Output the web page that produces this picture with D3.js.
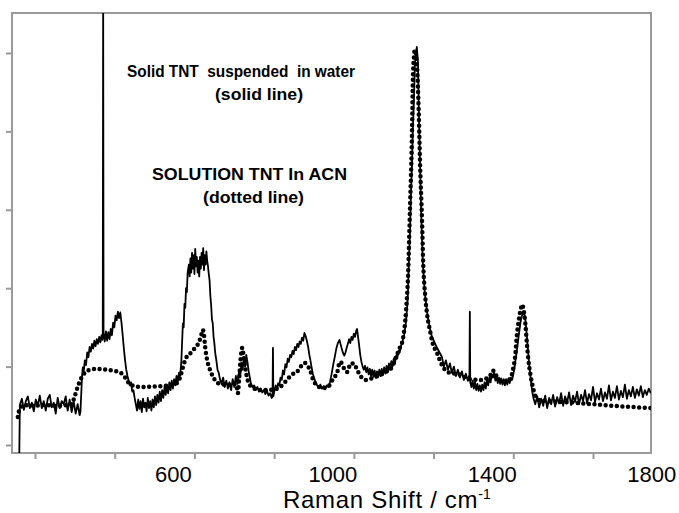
<!DOCTYPE html>
<html><head><meta charset="utf-8">
<script src="https://cdn.jsdelivr.net/npm/d3@7"></script>
<style>
html,body{margin:0;padding:0;background:#fff;}
svg{display:block;font-family:"Liberation Sans",Arial,Helvetica,sans-serif;}
</style></head><body>
<svg id="chart" width="679" height="513"></svg>
<script>
// ---- data ----
const xTicks = [200, 400, 600, 800, 1000, 1200, 1400, 1600];
const xTickLabels = [600, 1000, 1400, 1800];
const yTicks = [0, 1000, 2000, 3000, 4000, 5000];
const xDomain = [142.3, 1745.5];
const yDomain = [-102, 5510];

// Solid TNT suspended in water (solid line): [Raman shift, intensity]
const solidTNT = [
[160,-400],[162,510],[167,590],[172,450],[177,560],[182,620],[187,470],[192,540],[197,430],[202,580],[207,500],
[212,630],[217,470],[222,560],[227,440],[232,590],[237,640],[242,480],[247,540],[252,400],[257,600],[262,470],
[267,560],[272,520],[277,620],[282,440],[287,580],[292,420],[297,560],[302,400],[307,520],[312,380],[314,420],
[318,880],[320,990],[322,920],[325,1080],[328,1020],[331,1180],[334,1120],[337,1250],[340,1190],[343,1290],
[346,1230],[349,1330],[352,1260],[355,1350],[358,1290],[361,1380],[364,1310],[367,1400],[369,1340],[370,1400],
[371,5800],[372,1420],[375,1320],[378,1450],[381,1330],[384,1440],[387,1350],[390,1480],[393,1400],[396,1560],
[399,1500],[402,1650],[405,1590],[408,1700],[411,1620],[414,1690],[417,1560],[420,1400],[423,1230],[426,1080],
[429,960],[432,880],[435,820],[438,760],[441,800],[444,680],[447,700],[450,600],
[453,520],[456,440],[459,580],[462,460],[465,560],[468,420],[471,590],[474,480],[477,540],[480,430],[483,600],
[486,470],[489,560],[492,440],[495,580],[498,480],[501,620],[504,510],[507,640],[510,540],[513,680],[516,560],
[519,700],[522,600],[525,740],[528,640],[531,770],[534,660],[537,800],[540,700],[543,820],[546,720],[549,840],
[552,760],[555,880],[558,800],[561,920],[564,880],[567,1050],
[569,1300],[571,1550],[573,1500],[575,1800],[577,1750],[579,2000],[581,1950],[583,2200],[586,2300],[588,2150],
[590,2380],[592,2200],[594,2450],[596,2250],[598,2420],[600,2180],[602,2500],[604,2280],[606,2400],[608,2200],
[610,2350],[612,2150],[614,2400],[616,2250],[618,2450],[620,2300],[622,2510],[624,2230],[626,2420],[628,2300],
[630,2470],[632,2350],[634,2280],[636,2180],[638,2100],[640,1900],[642,1780],[644,1600],[646,1550],[648,1380],
[650,1300],[652,1180],[655,1080],[658,960],[661,920],[664,840],[668,780],[672,860],[676,740],[680,820],[684,720],
[688,800],[692,700],[696,840],[700,740],[704,880],[708,780],[712,950],[715,880],[718,1050],[721,960],[724,1120],
[727,1000],[730,1150],[733,1060],[736,940],[739,860],[742,780],[746,740],
[750,760],[754,700],[758,740],[762,680],[766,720],[770,670],[774,700],[778,650],[782,690],[786,630],[790,660],
[794,600],[796,620],[797,1240],[798,620],[801,700],[804,760],[807,700],[810,790],[813,760],[816,860],[819,830],
[822,950],[825,900],[828,1030],[831,990],[834,1100],[837,1060],[840,1150],[843,1120],[846,1200],[849,1160],
[852,1250],[855,1210],[858,1290],[861,1250],[864,1320],[867,1290],[870,1370],[873,1330],[876,1430],[879,1390],
[882,1330],[885,1260],[888,1160],[891,1080],[894,990],[897,910],[900,860],[904,800],[908,760],[912,730],
[916,770],[920,720],[924,750],[928,710],[932,760],[936,740],[940,800],[944,900],[948,1020],[952,1120],[956,1230],
[960,1300],[964,1340],[967,1280],[970,1220],[973,1170],[976,1140],[979,1180],[982,1240],[985,1290],[988,1350],
[991,1300],[994,1380],[997,1340],[1000,1420],[1003,1380],[1006,1460],[1008,1480],[1010,1400],[1013,1280],
[1016,1150],[1019,1060],[1022,1000],[1025,960],[1028,1010],[1031,930],[1034,990],[1037,900],[1040,970],
[1043,880],[1046,960],[1049,870],[1052,950],[1055,860],[1058,940],[1061,870],[1064,960],[1067,880],[1070,970],
[1073,890],[1076,990],[1079,910],[1082,1010],[1085,930],[1088,1040],[1091,960],[1094,1070],[1097,1000],
[1100,1100],[1103,1040],[1106,1140],[1109,1110],[1112,1200],[1115,1180],[1118,1260],[1121,1300],[1124,1360],
[1126,1403],[1131,1569],[1135,1849],[1138,2321],[1141,2742],[1143,3163],[1146,3597],[1148,4018],[1151,4439],
[1153,4847],[1156,5013],[1158,5076],[1161,4872],[1163,4273],[1166,3597],[1169,2934],[1173,2321],[1178,1939],
[1184,1684],[1190,1505],[1196,1378],[1209,1237],[1221,1122],
[1226,1000],[1231,1080],[1236,960],[1241,1040],[1246,920],[1251,1000],[1256,880],[1261,960],[1266,860],
[1271,940],[1276,830],[1281,910],[1286,820],[1289,880],[1290,860],[1291,1700],[1292,800],[1295,740],[1298,820],
[1301,720],[1304,800],[1307,700],[1310,780],[1313,690],[1316,760],[1319,680],[1322,770],[1325,700],[1328,800],
[1331,720],[1334,830],[1337,760],[1340,860],[1343,800],[1346,900],[1349,860],[1352,920],[1355,820],[1358,880],
[1361,790],[1364,860],[1367,780],[1370,850],[1373,770],[1376,840],[1379,760],[1382,840],[1385,770],[1388,850],
[1391,790],[1394,860],[1397,830],[1400,900],[1403,980],[1406,1100],[1409,1200],[1412,1330],[1415,1450],
[1418,1560],[1421,1640],[1424,1670],[1427,1690],[1430,1620],[1433,1450],[1436,1270],[1439,1080],[1442,920],
[1445,780],[1448,670],[1451,590],[1455,520],
[1460,620],[1465,480],[1470,590],[1475,500],[1480,630],[1485,470],[1490,600],[1495,520],[1500,640],[1505,490],
[1510,610],[1515,530],[1520,660],[1525,500],[1530,620],[1535,540],[1540,670],[1545,510],[1550,630],[1555,550],
[1560,680],[1565,520],[1570,640],[1575,560],[1580,700],[1585,530],[1590,650],[1595,570],[1600,740],[1605,550],
[1610,660],[1615,580],[1620,720],[1625,560],[1630,670],[1635,590],[1640,760],[1645,570],[1650,680],[1655,600],
[1660,750],[1665,580],[1670,690],[1675,610],[1680,770],[1685,590],[1690,700],[1695,620],[1700,740],[1705,600],
[1710,710],[1715,630],[1720,750],[1725,610],[1730,700],[1735,640],[1740,720],[1745,660]
];

// Solution TNT in ACN (dotted line): [Raman shift, intensity]
const solutionTNT = [
[157,357],[162,470],[170,500],[185,510],[200,500],[220,510],[240,505],[260,500],[280,510],[292,520],[297,580],
[302,660],[307,740],[312,810],[318,870],[325,920],[335,955],[350,970],[370,965],[390,955],[405,940],[415,920],
[425,870],[432,810],[440,770],[455,745],[475,740],[500,745],[520,750],[540,765],[556,790],[564,860],[571,990],
[578,1100],[585,1150],[592,1180],[600,1230],[607,1270],[612,1320],[617,1400],[621,1470],[624,1400],[627,1250],
[632,1080],[637,990],[642,920],[648,860],[655,800],[665,780],[680,770],[695,765],[703,780],[707,720],[709,660],
[712,830],[715,1050],[718,1200],[720,1240],[723,1150],[727,1000],[731,880],[736,790],[742,750],[750,720],
[765,700],[780,700],[800,710],[815,740],[832,829],[845,900],[857,930],[866,995],[877,1046],[882,1020],[890,957],
[898,829],[908,760],[920,730],[935,740],[943,800],[950,860],[958,920],[965,1060],[970,1040],[975,980],[983,930],
[992,1040],[1000,1040],[1008,960],[1018,870],[1030,830],[1045,850],[1060,880],[1080,930],[1095,990],[1108,1150],
[1116,1250],[1123,1350],[1131,1720],[1136,2170],[1141,3060],[1146,4020],[1148,4650],[1151,4970],[1153,5040],
[1156,4980],[1158,4870],[1163,4200],[1166,3600],[1171,2870],[1174,2321],[1179,1900],[1185,1620],[1191,1460],
[1196,1330],[1209,1170],[1221,1020],[1241,920],[1266,900],[1291,840],[1317,830],[1340,870],[1349,950],[1358,880],
[1370,820],[1385,810],[1395,880],[1399,960],[1405,1150],[1409,1400],[1414,1600],[1419,1740],[1422,1790],
[1426,1720],[1430,1560],[1434,1300],[1438,1080],[1443,900],[1450,720],[1456,620],[1467,570],[1500,555],
[1550,540],[1600,520],[1650,500],[1700,485],[1745,470]
];

// ---- drawing ----
const W = 679, H = 513;
const M = {left: 12, right: 28, top: 13, bottom: 60};
const svg = d3.select("#chart");
const x = d3.scaleLinear().domain(xDomain).range([M.left, W - M.right]);
const y = d3.scaleLinear().domain(yDomain).range([H - M.bottom, M.top]);
const axisGray = "#9a9a9a";

svg.append("defs").append("clipPath").attr("id", "plotclip")
  .append("rect").attr("x", M.left).attr("y", M.top)
  .attr("width", W - M.left - M.right).attr("height", H - M.top - M.bottom);

// axes (ticks only)
const gx = svg.append("g").attr("transform", `translate(0,${H - M.bottom})`)
  .call(d3.axisBottom(x).tickValues(xTicks).tickSize(6).tickFormat(""));
const gy = svg.append("g").attr("transform", `translate(${M.left},0)`)
  .call(d3.axisLeft(y).tickValues(yTicks).tickSize(6).tickFormat(""));
[gx, gy].forEach(g => {
  g.select(".domain").remove();
  g.selectAll(".tick line").attr("stroke", axisGray).attr("stroke-width", 2);
});

// frame
svg.append("rect").attr("x", M.left).attr("y", M.top)
  .attr("width", W - M.left - M.right).attr("height", H - M.top - M.bottom)
  .attr("fill", "none").attr("stroke", axisGray).attr("stroke-width", 2);

// tick labels (offset left of their tick, as in the original)
svg.append("g").selectAll("text").data(xTickLabels).join("text")
  .attr("x", d => x(d) - 21).attr("y", 481.5)
  .attr("text-anchor", "middle").attr("font-size", 22).attr("fill", "#000")
  .text(d => d);

// axis title
const title = svg.append("text").attr("x", 283).attr("y", 508)
  .attr("font-size", 24).attr("letter-spacing", 0.7).attr("fill", "#000");
title.append("tspan").text("Raman Shift / cm");
title.append("tspan").attr("font-size", 14).attr("letter-spacing", 0).attr("dy", -9).text("-1");

// data
const plot = svg.append("g").attr("clip-path", "url(#plotclip)");

plot.append("path").datum(solutionTNT)
  .attr("d", d3.line().x(d => x(d[0])).y(d => y(d[1])).curve(d3.curveMonotoneX))
  .attr("fill", "none").attr("stroke", "#000").attr("stroke-width", 4.5)
  .attr("stroke-linecap", "round").attr("stroke-dasharray", "0 5.6");

plot.append("path").datum(solidTNT)
  .attr("d", d3.line().x(d => x(d[0])).y(d => y(d[1])))
  .attr("fill", "none").attr("stroke", "#000").attr("stroke-width", 1.8)
  .attr("stroke-linejoin", "round");

// annotations
const notes = [
  {t: "Solid TNT  suspended  in water", x: 127, y: 77, len: 228},
  {t: "(solid line)", x: 215, y: 100, len: 88},
  {t: "SOLUTION TNT In ACN", x: 152, y: 180, len: 195},
  {t: "(dotted line)", x: 203, y: 203, len: 101}
];
svg.append("g").selectAll("text").data(notes).join("text")
  .attr("x", d => d.x).attr("y", d => d.y)
  .attr("font-size", 16).attr("font-weight", "bold").attr("fill", "#000")
  .style("white-space", "pre")
  .attr("textLength", d => d.len).attr("lengthAdjust", "spacingAndGlyphs")
  .text(d => d.t);
</script>
</body></html>
